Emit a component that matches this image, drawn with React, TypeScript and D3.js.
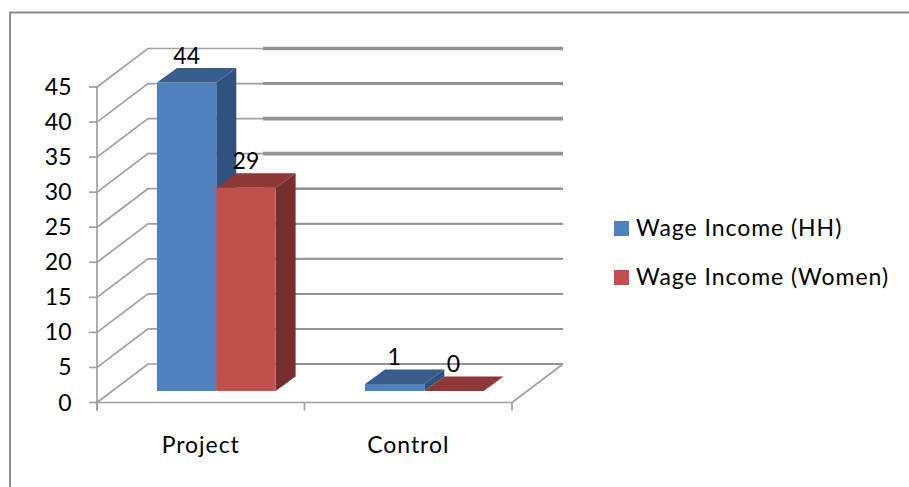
import React from "react";
import * as d3 from "d3";

const categories = ["Project", "Control"];
const seriesNames = ["Wage Income (HH)", "Wage Income (Women)"];
const hhValues = [44, 1];
const womenValues = [29, 0];
const yTicks = [0, 5, 10, 15, 20, 25, 30, 35, 40, 45];

const FONT = "Lato, 'Open Sans', sans-serif";
const FONT_SIZE = 23;
const WORD_SPACING = 0.95;
const GRID = "#a0a0a0";
const GRID_DARK = "#939393";
const depthX = 51;
const depthY = 38.5;
const barDX = 20;
const barDY = 14.5;
const heavyFrom = 263;

const y = d3.scaleLinear().domain([0, 45]).range([402.5, 87]);
const xCat = d3.scaleBand().domain(categories).range([97, 512]);
const barBase = 391;
const unit = (402.5 - 87) / 45;
const palette = [
  { front: "#4f81bd", top: "#385d8a", side: "#2f5280" },
  { front: "#c0504d", top: "#8c3836", side: "#772f2d" },
];
const heavyWidth = (t: number) => (t >= 30 ? (t === 40 ? 3 : 3.6) : t === 25 ? 2.4 : 2);

function Bar({ x, w, v, c }: { x: number; w: number; v: number; c: typeof palette[number] }) {
  const top = barBase - v * unit;
  const pts = (a: [number, number][]) => a.map((p) => p.join(",")).join(" ");
  return (
    <g>
      <polygon points={pts([[x + w, top], [x + w + barDX, top - barDY], [x + w + barDX, barBase - barDY], [x + w, barBase]])} fill={c.side} />
      <polygon points={pts([[x, top], [x + barDX, top - barDY], [x + w + barDX, top - barDY], [x + w, top]])} fill={c.top} />
      <rect x={x} y={top} width={w} height={barBase - top} fill={c.front} />
    </g>
  );
}

export default function App() {
  const x0 = xCat.range()[0];
  const x1 = xCat.range()[1];
  const barW = 59.3;
  const padOffset = 60;
  return (
    <svg width={909} height={487} style={{ position: "absolute", left: 0, top: 0, background: "#fff" }}>
      <path d="M10 487V12.6H909" fill="none" stroke="#8c8c8c" strokeWidth={2} />
      {yTicks.map((t) => (
        <g key={t} stroke={GRID} strokeWidth={1.7} fill="none">
          <path d={`M${x0},${y(t)}L${x0 + depthX},${y(t) - depthY}H${x1 + depthX}`} />
          <line x1={heavyFrom} x2={x1 + depthX} y1={y(t) - depthY} y2={y(t) - depthY} stroke={GRID_DARK} strokeWidth={heavyWidth(t)} />
          <line x1={x0 - 8} x2={x0} y1={y(t)} y2={y(t)} />
        </g>
      ))}
      <g stroke={GRID} strokeWidth={1.7} fill="none">
        <line x1={x0} x2={x0} y1={y(45)} y2={y(0) + 8} />
        <line x1={x0} x2={x1} y1={y(0)} y2={y(0)} />
        <line x1={x1} x2={x1 + depthX} y1={y(0)} y2={y(0) - depthY} />
        {[x0, xCat("Control")!, x1].map((p) => (
          <line key={p} x1={p} x2={p} y1={y(0)} y2={y(0) + 8} />
        ))}
      </g>
      {categories.map((c, i) => {
        const bx = xCat(c)! + padOffset + (i === 0 ? 0 : 0.5);
        return (
          <g key={c}>
            <Bar x={bx} w={barW} v={hhValues[i]} c={palette[0]} />
            <Bar x={bx + barW} w={barW} v={womenValues[i]} c={palette[1]} />
          </g>
        );
      })}
      <g fontFamily={FONT} fontSize={FONT_SIZE} fill="#000">
        {yTicks.map((t) => (
          <text key={t} x={71.5} y={y(t) + 8} textAnchor="end">{t}</text>
        ))}
        {categories.map((c) => (
          <text key={c} x={xCat(c)! + xCat.bandwidth() / 2} y={453} textAnchor="middle" letterSpacing={WORD_SPACING}>{c}</text>
        ))}
        {categories.map((c, i) => (
          <g key={c}>
            <text x={xCat(c)! + padOffset + barW / 2} y={barBase - hhValues[i] * unit - 19} textAnchor="middle">{hhValues[i]}</text>
            <text x={xCat(c)! + padOffset + barW * 1.5} y={barBase - womenValues[i] * unit - 19} textAnchor="middle">{womenValues[i]}</text>
          </g>
        ))}
        {seriesNames.map((s, i) => (
          <g key={s}>
            <rect x={614} y={221 + i * 49} width={15} height={15} fill={palette[i].front} />
            <text x={636} y={235.5 + i * 49} letterSpacing={WORD_SPACING}>{s}</text>
          </g>
        ))}
      </g>
    </svg>
  );
}
